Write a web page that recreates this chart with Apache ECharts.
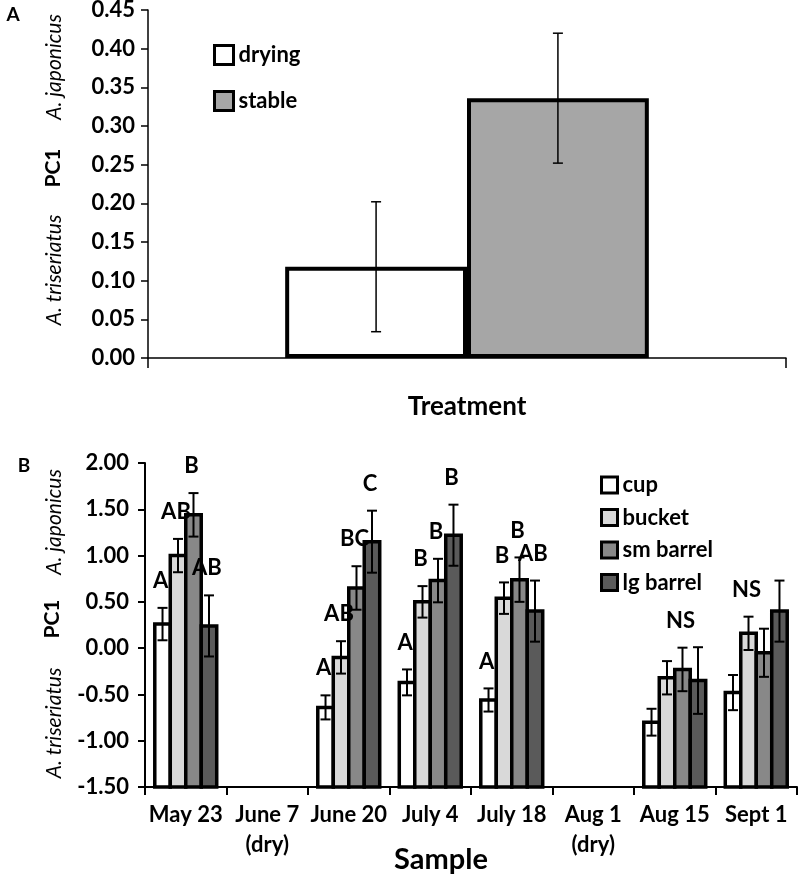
<!DOCTYPE html>
<html>
<head>
<meta charset="utf-8">
<title>PC1 by treatment and sample</title>
<script src="https://cdn.jsdelivr.net/npm/echarts@6/dist/echarts.min.js"></script>
<style>
    html, body { margin: 0; padding: 0; background: #fff; }
    #pc1_chart { width: 800px; height: 879px; }
</style>
</head>
<body>
<div id="pc1_chart"></div>
<script>

// Chart data
// ------------------------------

// Panel A - treatment means
var treatmentNames = ['drying', 'stable'];
var treatmentMeans = [0.118, 0.336];
var treatmentErrors = [0.084, 0.084];
var treatmentTicks = [0, 0.05, 0.10, 0.15, 0.20, 0.25, 0.30, 0.35, 0.40, 0.45];

// Panel B - sample means per container
var sampleDates = ['May 23', 'June 7\n(dry)', 'June 20', 'July 4', 'July 18', 'Aug 1\n(dry)', 'Aug 15', 'Sept 1'];
var containerNames = ['cup', 'bucket', 'sm barrel', 'lg barrel'];

var cupMeans = [0.26, null, -0.64, -0.37, -0.56, null, -0.80, -0.48];
var cupErrors = [0.175, null, 0.13, 0.14, 0.125, null, 0.145, 0.19];
var cupLetters = ['A', '', 'A', 'A', 'A', '', '', ''];

var bucketMeans = [1.00, null, -0.10, 0.50, 0.54, null, -0.32, 0.16];
var bucketErrors = [0.18, null, 0.175, 0.17, 0.17, null, 0.18, 0.18];
var bucketLetters = ['AB', '', 'AB', 'B', 'B', '', '', 'NS'];

var smBarrelMeans = [1.44, null, 0.65, 0.73, 0.74, null, -0.23, -0.05];
var smBarrelErrors = [0.235, null, 0.235, 0.235, 0.24, null, 0.235, 0.26];
var smBarrelLetters = ['B', '', 'BC', 'B', 'B', '', 'NS', ''];

var lgBarrelMeans = [0.24, null, 1.15, 1.22, 0.40, null, -0.35, 0.40];
var lgBarrelErrors = [0.33, null, 0.335, 0.33, 0.33, null, 0.36, 0.33];
var lgBarrelLetters = ['AB', '', 'C', 'B', 'AB', '', '', ''];

var sampleTicks = [-1.5, -1.0, -0.5, 0, 0.5, 1.0, 1.5, 2.0];


// Setup
// ------------------------------

var fontFamily = 'Lato, "Noto Sans", sans-serif';
var treatmentColors = ['#ffffff', '#a6a6a6'];
var containerColors = ['#ffffff', '#d9d9d9', '#888888', '#5a5a5a'];
var treatmentGap = 0.43;
var sampleGap = 0.24;
var sampleBase = sampleTicks[0];

var containerMeans = [cupMeans, bucketMeans, smBarrelMeans, lgBarrelMeans];
var containerErrors = [cupErrors, bucketErrors, smBarrelErrors, lgBarrelErrors];
var containerLetters = [cupLetters, bucketLetters, smBarrelLetters, lgBarrelLetters];

var chart_element = document.getElementById('pc1_chart');
var pc1_chart = echarts.init(chart_element, null, { renderer: 'canvas' });

// Error bar for panel A (two bars side by side in one category)
var renderTreatmentError = function(k) {
    return function(params, api) {
        var band = api.size([1, 0])[0];
        var w = band * (1 - treatmentGap) / 2;
        var x = api.coord([0, 0])[0] + (k - 0.5) * w;
        var lo = api.coord([0, api.value(1)])[1];
        var hi = api.coord([0, api.value(2)])[1];
        var style = { stroke: '#000', lineWidth: 1.5 };
        return {
            type: 'group',
            children: [
                { type: 'line', shape: { x1: x, y1: lo, x2: x, y2: hi }, style: style },
                { type: 'line', shape: { x1: x - 5, y1: lo, x2: x + 5, y2: lo }, style: style },
                { type: 'line', shape: { x1: x - 5, y1: hi, x2: x + 5, y2: hi }, style: style }
            ]
        };
    };
};

// Bars for panel B, drawn up from the axis bottom
var renderContainerBar = function(k) {
    return function(params, api) {
        var idx = api.value(0);
        var band = api.size([1, 0])[0];
        var w = band * (1 - sampleGap) / 4;
        var x = api.coord([idx, 0])[0] - 2 * w + k * w;
        var top = api.coord([idx, api.value(1)])[1];
        var base = api.coord([idx, sampleBase])[1];
        return {
            type: 'rect',
            shape: { x: x, y: top, width: w, height: base - top },
            style: { fill: containerColors[k], stroke: '#000', lineWidth: 3.5 }
        };
    };
};

// Error bars and letters for panel B
var renderContainerError = function(k) {
    return function(params, api) {
        var idx = api.value(0);
        var band = api.size([1, 0])[0];
        var w = band * (1 - sampleGap) / 4;
        var x = api.coord([idx, 0])[0] - 2 * w + (k + 0.5) * w;
        var lo = api.coord([idx, api.value(1)])[1];
        var hi = api.coord([idx, api.value(2)])[1];
        var style = { stroke: '#000', lineWidth: 2 };
        return {
            type: 'group',
            children: [
                { type: 'line', shape: { x1: x, y1: lo, x2: x, y2: hi }, style: style },
                { type: 'line', shape: { x1: x - 5, y1: lo, x2: x + 5, y2: lo }, style: style },
                { type: 'line', shape: { x1: x - 5, y1: hi, x2: x + 5, y2: hi }, style: style },
                {
                    type: 'text',
                    style: {
                        text: containerLetters[k][idx],
                        x: x - 2,
                        y: hi - 27,
                        align: 'center',
                        verticalAlign: 'middle',
                        fontFamily: fontFamily,
                        fontWeight: 'bold',
                        fontSize: 22,
                        fill: '#000'
                    }
                }
            ]
        };
    };
};

// Build series
var series = [];

treatmentNames.forEach(function(name, k) {
    var data = [];
    data[0] = treatmentMeans[k];
    series.push({
        name: name,
        type: 'bar',
        xAxisIndex: 0,
        yAxisIndex: 0,
        barGap: 0,
        barCategoryGap: (treatmentGap * 100) + '%',
        itemStyle: { color: treatmentColors[k], borderColor: '#000', borderWidth: 4 },
        emphasis: { disabled: true },
        data: data
    });
});

treatmentNames.forEach(function(name, k) {
    series.push({
        type: 'custom',
        xAxisIndex: 0,
        yAxisIndex: 0,
        z: 5,
        renderItem: renderTreatmentError(k),
        encode: { x: 0, y: [1, 2] },
        data: [[0, treatmentMeans[k] - treatmentErrors[k], treatmentMeans[k] + treatmentErrors[k]]]
    });
});

containerNames.forEach(function(name, k) {
    var data = [];
    containerMeans[k].forEach(function(v, i) {
        if (v !== null) data.push([i, v]);
    });
    series.push({
        name: name,
        type: 'custom',
        xAxisIndex: 1,
        yAxisIndex: 1,
        z: 2,
        itemStyle: { color: containerColors[k], borderColor: '#000', borderWidth: 3 },
        renderItem: renderContainerBar(k),
        encode: { x: 0, y: 1 },
        data: data
    });
});

containerNames.forEach(function(name, k) {
    var data = [];
    containerMeans[k].forEach(function(v, i) {
        if (v !== null) {
            var e = containerErrors[k][i];
            data.push([i, v - e, v + e]);
        }
    });
    series.push({
        type: 'custom',
        xAxisIndex: 1,
        yAxisIndex: 1,
        z: 5,
        renderItem: renderContainerError(k),
        encode: { x: 0, y: [1, 2] },
        data: data
    });
});

// Rotated side labels
var sideText = function(text, x, y, italic, bold) {
    return {
        type: 'text',
        x: x,
        y: y,
        rotation: Math.PI / 2,
        style: {
            text: text,
            align: 'center',
            verticalAlign: 'middle',
            fontFamily: fontFamily,
            fontStyle: italic ? 'italic' : 'normal',
            fontWeight: bold ? 'bold' : 'normal',
            fontSize: 21,
            fill: '#000'
        }
    };
};

var boldText = function(text, x, y, size) {
    return {
        type: 'text',
        x: x,
        y: y,
        style: {
            text: text,
            align: 'center',
            verticalAlign: 'middle',
            fontFamily: fontFamily,
            fontWeight: 'bold',
            fontSize: size,
            fill: '#000'
        }
    };
};

var axisLabelStyle = {
    color: '#000',
    fontFamily: fontFamily,
    fontWeight: 'bold',
    fontSize: 22
};

// Options
pc1_chart.setOption({
    animation: false,
    textStyle: { fontFamily: fontFamily },

    grid: [
        { left: 148, right: 14, top: 10, bottom: 521, containLabel: false, outerBoundsMode: 'none' },
        { left: 145, right: 3, top: 463, bottom: 92, containLabel: false, outerBoundsMode: 'none' }
    ],

    legend: [
        {
            orient: 'vertical',
            left: 208,
            top: 39,
            itemWidth: 19,
            itemHeight: 19,
            itemGap: 24,
            icon: 'rect',
            selectedMode: false,
            textStyle: { color: '#000', fontWeight: 'bold', fontSize: 22, lineHeight: 19, fontFamily: fontFamily },
            data: treatmentNames.map(function(name, k) {
                return { name: name, itemStyle: { color: treatmentColors[k], borderColor: '#000', borderWidth: 3 } };
            })
        },
        {
            orient: 'vertical',
            left: 595,
            top: 469,
            itemWidth: 16,
            itemHeight: 16,
            itemGap: 10.5,
            icon: 'rect',
            selectedMode: false,
            textStyle: { color: '#000', fontWeight: 'bold', fontSize: 22, lineHeight: 16, fontFamily: fontFamily },
            data: containerNames.map(function(name, k) {
                return { name: name, itemStyle: { color: containerColors[k], borderColor: '#000', borderWidth: 3 } };
            })
        }
    ],

    xAxis: [
        {
            type: 'category',
            gridIndex: 0,
            data: ['Treatment'],
            name: 'Treatment',
            nameLocation: 'middle',
            nameGap: 36,
            nameTextStyle: { color: '#000', fontWeight: 'bold', fontSize: 26, fontFamily: fontFamily },
            axisLine: { lineStyle: { color: '#000', width: 1.5 } },
            axisTick: { show: true, length: 10, lineStyle: { color: '#000', width: 1.5 } },
            axisLabel: { show: false },
            splitLine: { show: false }
        },
        {
            type: 'category',
            gridIndex: 1,
            data: sampleDates,
            axisLine: { onZero: false, lineStyle: { color: '#000', width: 2 } },
            axisTick: { show: true, interval: 0, length: 8, lineStyle: { color: '#000', width: 2 } },
            axisLabel: Object.assign({ interval: 0, margin: 13, lineHeight: 30 }, axisLabelStyle),
            splitLine: { show: false }
        }
    ],

    yAxis: [
        {
            type: 'value',
            gridIndex: 0,
            min: treatmentTicks[0],
            max: treatmentTicks[treatmentTicks.length - 1],
            interval: 0.05,
            axisLine: { show: true, lineStyle: { color: '#000', width: 1.5 } },
            axisTick: { show: true, length: 7, lineStyle: { color: '#000', width: 1.5 } },
            axisLabel: Object.assign({ margin: 13, formatter: function(v) { return v.toFixed(2); } }, axisLabelStyle),
            splitLine: { show: false }
        },
        {
            type: 'value',
            gridIndex: 1,
            min: sampleTicks[0],
            max: sampleTicks[sampleTicks.length - 1],
            interval: 0.5,
            axisLine: { show: true, onZero: false, lineStyle: { color: '#000', width: 2 } },
            axisTick: { show: true, length: 7, lineStyle: { color: '#000', width: 2 } },
            axisLabel: Object.assign({ margin: 16, formatter: function(v) { return v.toFixed(2); } }, axisLabelStyle),
            splitLine: { show: false }
        }
    ],

    graphic: [
        boldText('A', 13, 15, 19),
        boldText('B', 24, 466, 19),
        sideText('A. japonicus', 54, 67, true, false),
        sideText('PC1', 53, 168, false, true),
        sideText('A. triseriatus', 54, 270, true, false),
        sideText('A. japonicus', 54, 522, true, false),
        sideText('PC1', 52, 619, false, true),
        sideText('A. triseriatus', 54, 723, true, false),
        boldText('Sample', 441, 860, 29)
    ],

    series: series
});


// Resize chart
// ------------------------------

window.addEventListener('resize', function() {
    pc1_chart.resize();
});

</script>
</body>
</html>
